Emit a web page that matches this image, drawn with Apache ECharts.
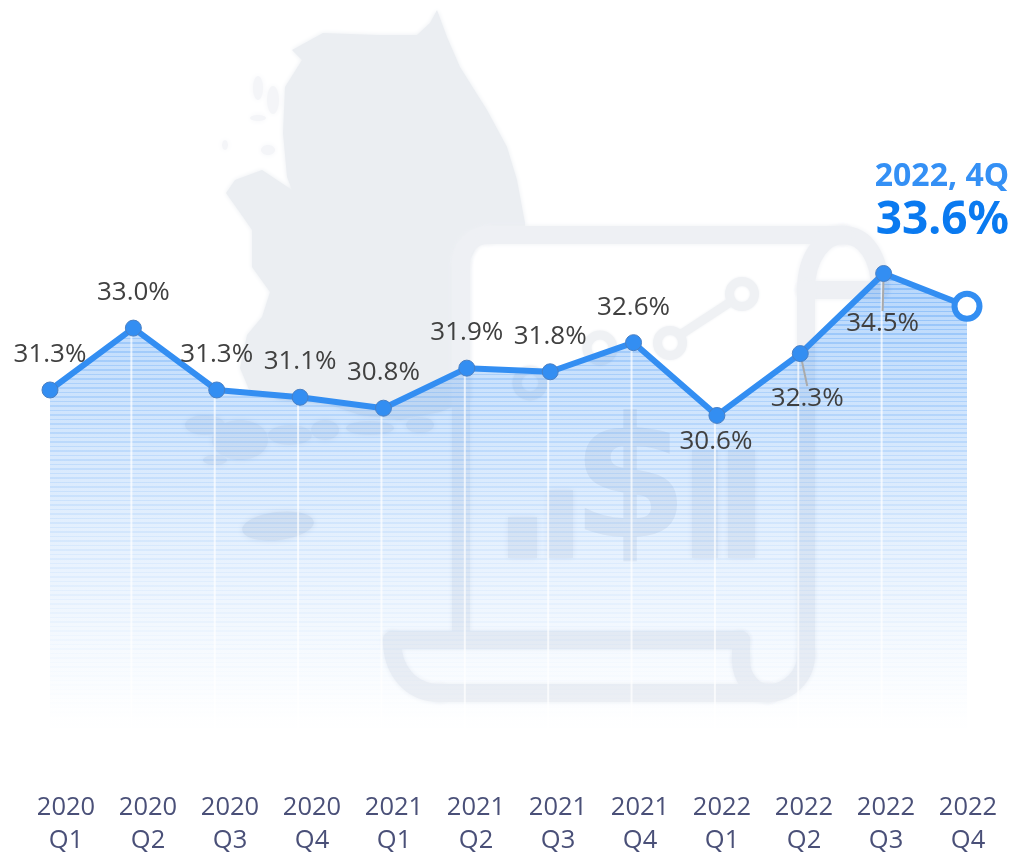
<!DOCTYPE html>
<html><head><meta charset="utf-8">
<style>html,body{margin:0;padding:0;background:#fff}#c{width:1010px;height:854px}</style>
<script src="https://cdn.jsdelivr.net/npm/echarts@6/dist/echarts.min.js"></script>
</head><body><div id="c"></div>
<script>
const categories = ['2020\nQ1','2020\nQ2','2020\nQ3','2020\nQ4','2021\nQ1','2021\nQ2','2021\nQ3','2021\nQ4','2022\nQ1','2022\nQ2','2022\nQ3','2022\nQ4'];
const values = [31.3,33.0,31.3,31.1,30.8,31.9,31.8,32.6,30.6,32.3,34.5,33.6];
const latestLabel = '2022, 4Q';
const labelShift = [[0,-9],[0,-9],[0,-9],[0,-9],[0,-9],[0,-9],[0,-9],[0,-9],[-1,53],[7,72],[-1,77],[0,0]];
const yMin = 22, yMax = 36;

const last = values.length - 1;
const font = '"Open Sans","Noto Sans",sans-serif';
const grey = '#ebeef2';
const pale = '#eef0f4';

// banded fill of the area
const stops = [];
const top0 = 270, bottom0 = 724, span = bottom0 - top0, period = 4.5;
for (let y = 0; y < span; y += period) {
  const t = y / span;
  const a = 0.44 * Math.pow(1 - t, 1.15);
  const add = (pos, al) => stops.push({offset: Math.min(1, pos / span), color: `rgba(51,141,245,${al.toFixed(3)})`});
  add(y, a * 1.3); add(y + 1.8, a * 1.3); add(y + 1.8, a * 0.8); add(y + period, a * 0.8);
}

const bg = (o) => Object.assign({silent: true, z: -10}, o);
const solid = {fill: grey, shadowBlur: 5, shadowColor: grey};
const paleSolid = {fill: pale, shadowBlur: 6, shadowColor: pale};
const line = {fill: 'none', stroke: pale, lineWidth: 18, lineCap: 'round', shadowBlur: 5, shadowColor: pale};
const thin = {fill: 'none', stroke: '#eff1f4', lineWidth: 9, shadowBlur: 3, shadowColor: '#eff1f4'};
const blob = (cx, cy, rx, ry, fill) => bg({type: 'ellipse', shape: {cx, cy, rx, ry}, style: {fill: fill || pale, shadowBlur: 6, shadowColor: fill || pale}});
const bar = (x, y, width, height) => bg({type: 'rect', shape: {x, y, width, height}, style: paleSolid});
const ring = (cx, cy, r) => bg({type: 'circle', shape: {cx, cy, r}, style: thin});
const seg = (x1, y1, x2, y2, style) => bg({type: 'line', shape: {x1, y1, x2, y2}, style: style || line});
const curve = (x1, y1, cpx1, cpy1, cpx2, cpy2, x2, y2) => bg({type: 'bezierCurve', shape: {x1, y1, cpx1, cpy1, cpx2, cpy2, x2, y2}, style: line});
const isle = '#f4f5f8';

const graphic = [
  bg({type: 'polygon', shape: {points: [[437,10],[447,37],[460,67],[487,110],[507,147],[517,180],[525,223],[525,235],[480,240],[470,260],[470,400],[440,412],[400,420],[360,415],[330,405],[280,400],[250,392],[240,368],[247,335],[262,317],[270,292],[252,267],[252,230],[243,217],[226,193],[235,180],[262,170],[292,190],[287,177],[283,133],[285,87],[302,60],[292,50],[323,33],[377,35],[417,35],[430,23]]}, style: solid}),
  blob(258,88,5,12,isle), blob(273,100,6,14,isle), blob(258,118,8,3,isle), blob(225,145,3,5,isle), blob(268,150,7,5,isle),
  bg({type: 'ellipse', shape: {cx: 278, cy: 526, rx: 36, ry: 14}, rotation: 0.12, originX: 278, originY: 526, style: {fill: '#e9ecf1', shadowBlur: 6, shadowColor: '#e9ecf1'}}),
  blob(205,425,20,10), blob(240,440,28,20), blob(290,435,22,10), blob(325,430,14,10), blob(370,428,24,7), blob(420,425,14,8), blob(215,460,12,5),
  seg(461,632,461,262), curve(461,262,461,247,473,235,488,235), seg(488,235,843,235),
  curve(843,235,866,235,880,258,880,290), seg(880,290,806,290),
  curve(806,290,806,255,825,235,843,235),
  seg(806,290,806,655), curve(806,655,806,676,789,693,768,693), seg(768,693,440,693),
  curve(440,693,410,693,392,670,392,640), seg(392,640,741,640), seg(741,640,741,660),
  curve(741,660,741,680,755,693,768,693),
  ring(742,294,12.5), ring(670,343,12.5), ring(600,348,13), ring(530,383,13),
  seg(680,335,732,301,thin),
  bar(508,517,29,41), bar(548,490,25,68), bar(692,450,26,108), bar(728,450,27,108),
  bg({type: 'text', x: 630, y: 493, style: {text: '$', font: 'bold 168px "DejaVu Sans"', fill: pale, align: 'center', verticalAlign: 'middle'}}),
  {type: 'text', x: 1009, y: 177, z: 20, style: {text: latestLabel, font: 'bold 32px "Noto Sans"', fill: '#3490f5', align: 'right', verticalAlign: 'middle'}},
  {type: 'text', x: 1009, y: 221, z: 20, style: {text: values[last].toFixed(1) + '%', font: 'bold 46px "Noto Sans"', fill: '#0a7af0', align: 'right', verticalAlign: 'middle'}}
];

const seriesData = values.map((v, i) => {
  const d = {value: v};
  if (i === last) {
    d.symbolSize = 25;
    d.itemStyle = {color: '#fff', borderColor: '#338ef2', borderWidth: 6};
    d.label = {show: false};
  }
  if (i === 9) { d.labelLine = {show: true, lineStyle: {color: '#aaa', width: 2}}; d.label = {padding: [6,0,0,0]}; }
  if (i === 10) { d.labelLine = {show: true, lineStyle: {color: '#aaa', width: 2}}; d.label = {padding: [12,0,0,0]}; }
  return d;
});

const gridBox = {top: 218.9, height: 509.6, outerBoundsMode: 'none'};
const chart = echarts.init(document.getElementById('c'), null, {renderer: 'canvas'});
chart.setOption({
  animation: false,
  backgroundColor: '#fff',
  graphic,
  grid: [
    Object.assign({left: 50, width: 917}, gridBox),
    Object.assign({left: 25, width: 984}, gridBox),
    Object.assign({left: 48, width: 917}, gridBox)
  ],
  xAxis: [
    {gridIndex: 0, type: 'category', data: categories, boundaryGap: false, show: false},
    {gridIndex: 1, type: 'category', data: categories, boundaryGap: true,
     axisLine: {show: false}, axisTick: {show: false},
     axisLabel: {interval: 0, margin: 63, fontFamily: font, fontSize: 25.5, lineHeight: 33, color: '#4a5078'}},
    {gridIndex: 2, type: 'category', data: categories, boundaryGap: false, show: false}
  ],
  yAxis: [0, 1, 2].map(i => ({gridIndex: i, type: 'value', min: yMin, max: yMax, show: false})),
  series: [
    {type: 'line', xAxisIndex: 0, yAxisIndex: 0, z: 2, data: values, symbol: 'none', silent: true,
     lineStyle: {width: 0},
     areaStyle: {opacity: 1, color: {type: 'linear', global: true, x: 0, y: top0, x2: 0, y2: bottom0, colorStops: stops}}},
    {type: 'bar', xAxisIndex: 2, yAxisIndex: 2, z: 3, barWidth: 2, silent: true,
     data: values.map((v, i) => (i === 0 || i === last) ? null : v),
     itemStyle: {color: 'rgba(255,255,255,0.7)'}},
    {type: 'line', xAxisIndex: 0, yAxisIndex: 0, z: 5, data: seriesData, symbol: 'circle', symbolSize: 16, showAllSymbols: true,
     lineStyle: {color: '#338ef2', width: 6},
     itemStyle: {color: '#338ef2', borderColor: '#4a80c4', borderWidth: 1},
     label: {show: true, position: 'top', fontFamily: font, fontSize: 26, color: '#404040', formatter: p => p.value.toFixed(1) + '%'},
     labelLayout: p => ({dx: labelShift[p.dataIndex][0], dy: labelShift[p.dataIndex][1]})
    }
  ]
});
</script></body></html>
